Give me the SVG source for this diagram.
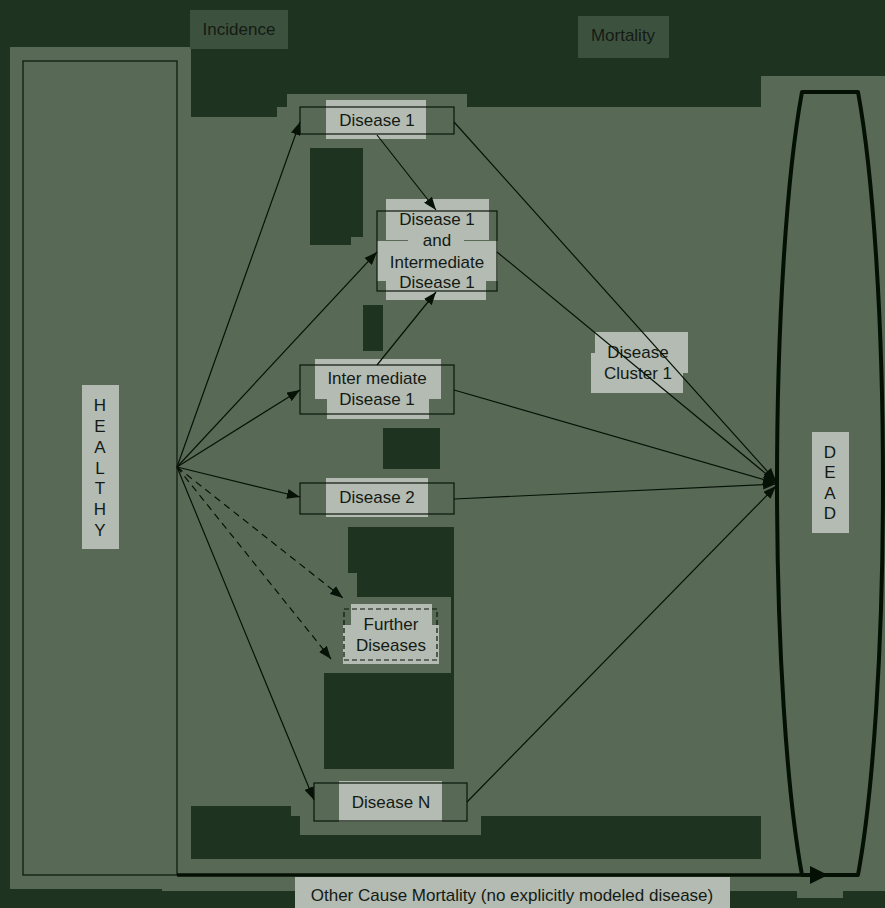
<svg xmlns="http://www.w3.org/2000/svg" width="885" height="908" viewBox="0 0 885 908">
  <defs>
    <style>
      text { font-family: "Liberation Sans", Arial, sans-serif; font-size: 17px; fill: #141a14; text-anchor: middle; }
      .dark { fill: #1e3320; }
      .area { fill: #586a56; }
      .head { fill: #3d523e; }
      .lbl { fill: #b3bbb2; }
      .box { fill: none; stroke: #0a160a; stroke-width: 1.2; }
      .conn { fill: none; stroke: #071207; stroke-width: 1.2; }
      .dash { stroke-dasharray: 7 5; }
    </style>
    <marker id="arrow" markerUnits="userSpaceOnUse" markerWidth="13" markerHeight="10" refX="13" refY="5" orient="auto">
      <path d="M0,0 L13,5 L0,10 Z" fill="#071207"/>
    </marker>
    <marker id="arrowBig" markerUnits="userSpaceOnUse" markerWidth="18" markerHeight="18" refX="18" refY="9" orient="auto">
      <path d="M0,0 L18,9 L0,18 Z" fill="#041004"/>
    </marker>
  </defs>

  <!-- backdrop -->
  <rect class="dark" x="0" y="0" width="885" height="908"/>
  <polygon class="area" points="10,47 191,47 191,117 277,117 277,107 287,107 287,94 467,94 467,107 761,107 761,76 885,76 885,891 843,891 843,898 797,898 797,891 730,891 730,877 295,877 295,891 162,891 162,889 10,889"/>

  <!-- darker panels inside the working area -->
  <g id="panels">
    <polygon class="dark" points="310,148 363,148 363,237 351,237 351,245 310,245"/>
    <rect class="dark" x="363" y="305" width="20" height="46"/>
    <rect class="dark" x="383" y="428" width="57" height="41"/>
    <polygon class="dark" points="348,527 454,527 454,769 324,769 324,673 451,673 451,597 357,597 357,573 348,573"/>
    <polygon class="dark" points="191,806 291,806 291,816 300,816 300,835 481,835 481,816 761,816 761,859 191,859"/>
  </g>

  <!-- section headers -->
  <g id="incidence">
    <rect class="head" x="190" y="10" width="98" height="39"/>
    <text x="239" y="35">Incidence</text>
  </g>
  <g id="mortality">
    <rect class="head" x="578" y="16" width="91" height="42"/>
    <text x="623" y="41">Mortality</text>
  </g>

  <!-- HEALTHY state -->
  <g id="healthy">
    <rect class="box" x="23" y="61" width="154" height="814"/>
    <rect class="lbl" x="82" y="385" width="37" height="164"/>
    <text x="100" y="411">H</text>
    <text x="100" y="432">E</text>
    <text x="100" y="453">A</text>
    <text x="100" y="474">L</text>
    <text x="100" y="494">T</text>
    <text x="100" y="515">H</text>
    <text x="100" y="536">Y</text>
  </g>

  <g id="disease1">
    <rect class="lbl" x="326" y="100" width="100" height="39"/>
    <rect class="box" x="300" y="107" width="154" height="27"/>
    <text x="377" y="126">Disease 1</text>
  </g>

  <g id="disease1-intermediate">
    <rect class="lbl" x="386" y="199" width="103" height="41"/>
    <rect class="lbl" x="408" y="238" width="56" height="4"/>
    <rect class="lbl" x="377" y="241" width="121" height="40"/>
    <rect class="lbl" x="386" y="280" width="100" height="20"/>
    <rect class="box" x="377" y="211" width="120" height="80"/>
    <text x="437" y="225">Disease 1</text>
    <text x="437" y="246">and</text>
    <text x="437" y="268">Intermediate</text>
    <text x="437" y="288">Disease 1</text>
  </g>

  <g id="intermediate1">
    <rect class="lbl" x="315" y="359" width="126" height="40"/>
    <rect class="lbl" x="327" y="398" width="102" height="21"/>
    <rect class="box" x="300" y="365" width="154" height="49"/>
    <text x="377" y="384">Inter mediate</text>
    <text x="377" y="405">Disease 1</text>
  </g>

  <g id="disease2">
    <rect class="lbl" x="326" y="478" width="102" height="39"/>
    <rect class="box" x="300" y="483" width="154" height="31"/>
    <text x="377" y="503">Disease 2</text>
  </g>

  <g id="further">
    <rect class="lbl" x="351" y="604" width="81" height="22"/>
    <rect class="lbl" x="343" y="625" width="96" height="39"/>
    <rect class="box" x="344" y="609" width="93" height="51" stroke-dasharray="5 3" stroke-width="1.5"/>
    <text x="391" y="630">Further</text>
    <text x="391" y="651">Diseases</text>
  </g>

  <g id="diseaseN">
    <rect class="lbl" x="339" y="781" width="103" height="41"/>
    <rect class="box" x="314" y="783" width="153" height="38"/>
    <text x="391" y="808">Disease N</text>
  </g>

  <g id="cluster1">
    <polygon class="lbl" points="595,332 688,332 688,373 683,373 683,393 591,393 591,353 595,353"/>
    <text x="638" y="358">Disease</text>
    <text x="638" y="379">Cluster 1</text>
  </g>

  <!-- DEAD state -->
  <g id="dead">
    <path d="M802,92 L858,92 C873.4,175.7 883,324 883,483.5 C883,643 873.4,791.3 858,875 L802,875 C786.6,791.3 777,643 777,483.5 C777,324 786.6,175.7 802,92 Z" fill="none" stroke="#041004" stroke-width="4" stroke-linejoin="round"/>
    <rect class="lbl" x="812" y="432" width="37" height="101"/>
    <text x="830" y="458">D</text>
    <text x="830" y="478">E</text>
    <text x="830" y="499">A</text>
    <text x="830" y="519">D</text>
  </g>

  <g id="other-cause">
    <rect class="lbl" x="295" y="877" width="435" height="31"/>
    <text x="512" y="901">Other Cause Mortality (no explicitly modeled disease)</text>
  </g>

  <!-- connectors, drawn over the node labels -->
  <g id="connectors">
    <line class="conn" x1="177" y1="467" x2="300" y2="122" marker-end="url(#arrow)"/>
    <line class="conn" x1="177" y1="467" x2="377" y2="252" marker-end="url(#arrow)"/>
    <line class="conn" x1="177" y1="467" x2="300" y2="390" marker-end="url(#arrow)"/>
    <line class="conn" x1="177" y1="467" x2="300" y2="497" marker-end="url(#arrow)"/>
    <line class="conn dash" x1="177" y1="467" x2="343" y2="598" marker-end="url(#arrow)"/>
    <line class="conn dash" x1="177" y1="467" x2="331" y2="659" marker-end="url(#arrow)"/>
    <line class="conn" x1="177" y1="467" x2="314" y2="800" marker-end="url(#arrow)"/>
    <line class="conn" x1="377" y1="135" x2="436" y2="210" marker-end="url(#arrow)"/>
    <line class="conn" x1="377" y1="365" x2="436" y2="292" marker-end="url(#arrow)"/>
    <line class="conn" x1="454" y1="122" x2="776" y2="481" marker-end="url(#arrow)"/>
    <line class="conn" x1="497" y1="252" x2="776" y2="482" marker-end="url(#arrow)"/>
    <line class="conn" x1="454" y1="390" x2="776" y2="483" marker-end="url(#arrow)"/>
    <line class="conn" x1="454" y1="499" x2="776" y2="484" marker-end="url(#arrow)"/>
    <line class="conn" x1="467" y1="802" x2="776" y2="486" marker-end="url(#arrow)"/>
    <line x1="177" y1="875" x2="828" y2="875" stroke="#041004" stroke-width="3.5" marker-end="url(#arrowBig)"/>
  </g>
</svg>
